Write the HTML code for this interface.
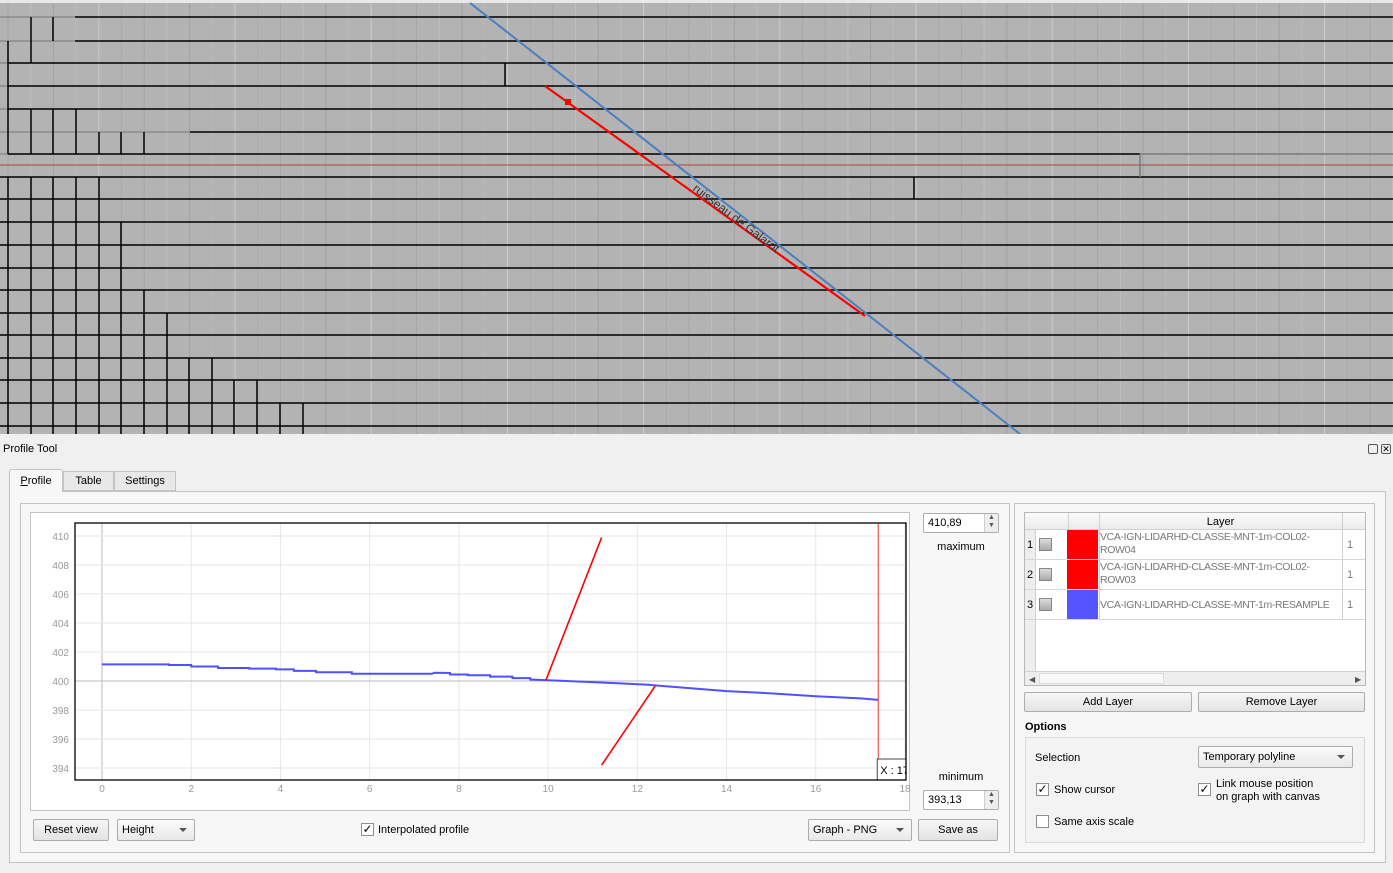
<!DOCTYPE html>
<html><head><meta charset="utf-8">
<style>
*{box-sizing:border-box}
body{margin:0;width:1393px;height:873px;overflow:hidden;background:#f0f0f0;font-family:"Liberation Sans",sans-serif;font-size:11px;color:#000;position:relative}
.abs{position:absolute}
.btn{position:absolute;border:1px solid #adadad;border-radius:2px;background:linear-gradient(#f6f6f6,#e3e3e3);text-align:center;font-size:11px;line-height:20px}
.combo{position:absolute;border:1px solid #adadad;border-radius:2px;background:linear-gradient(#fafafa,#e9e9e9);font-size:11px;line-height:20px;padding-left:4px}
.combo:after{content:"";position:absolute;right:7px;top:8px;border-left:4px solid transparent;border-right:4px solid transparent;border-top:4px solid #555}
.cb{position:absolute;width:13px;height:13px;border:1px solid #8f8f8f;background:#fff;font-size:12px;line-height:11px;text-align:center}
.spin{position:absolute;border:1px solid #adadad;border-radius:2px;background:#fff;font-size:11px;line-height:18px;padding-left:4px}
.spin span{position:absolute;right:0;top:0;width:14px;height:100%;border-left:1px solid #ccc;background:#eee;font-size:7px;line-height:8px;text-align:center;color:#555}
</style></head><body>
<svg id="map" class="abs" style="left:0;top:0" width="1393" height="434"></svg>

<div class="abs" style="left:3px;top:443px;font-size:11px">Profile Tool</div>
<div class="abs" style="left:1368px;top:444px;width:10px;height:10px;border:1px solid #555;border-radius:2px"></div>
<div class="abs" style="left:1381px;top:444px;width:10px;height:10px;border:1px solid #555;border-radius:2px;font-size:9px;line-height:8px;text-align:center">✕</div>

<div class="abs" style="left:9px;top:491px;width:1377px;height:372px;border:1px solid #c4c4c4;background:#f7f7f7"></div>
<div class="abs" style="left:9px;top:469px;width:54px;height:23px;border:1px solid #c4c4c4;border-bottom:none;background:#f7f7f7;border-radius:3px 3px 0 0;text-align:center;line-height:22px"><u>P</u>rofile</div>
<div class="abs" style="left:63px;top:471px;width:51px;height:20px;border:1px solid #c4c4c4;background:#e8e8e8;text-align:center;line-height:19px">Table</div>
<div class="abs" style="left:114px;top:471px;width:62px;height:20px;border:1px solid #c4c4c4;background:#e8e8e8;text-align:center;line-height:19px">Settings</div>

<div class="abs" style="left:20px;top:503px;width:990px;height:350px;border:1px solid #c4c4c4"></div>
<div class="abs" style="left:30px;top:512px;width:880px;height:299px;border:1px solid #c4c4c4;background:#fff"></div>
<svg id="chart" class="abs" style="left:0;top:0;pointer-events:none" width="1393" height="873"><defs><clipPath id="pc"><rect x="75" y="523" width="831" height="257"/></clipPath></defs></svg>

<div class="spin" style="left:923px;top:513px;width:76px;height:20px">410,89<span>▲<br>▼</span></div>
<div class="abs" style="left:923px;top:541px;width:76px;text-align:center">maximum</div>
<div class="abs" style="left:923px;top:771px;width:76px;text-align:center">minimum</div>
<div class="spin" style="left:923px;top:790px;width:76px;height:20px">393,13<span>▲<br>▼</span></div>

<div class="btn" style="left:33px;top:819px;width:76px;height:22px">Reset view</div>
<div class="combo" style="left:117px;top:819px;width:78px;height:22px">Height</div>
<div class="cb" style="left:361px;top:823px">✓</div>
<div class="abs" style="left:378px;top:824px">Interpolated profile</div>
<div class="combo" style="left:808px;top:819px;width:104px;height:22px">Graph - PNG</div>
<div class="btn" style="left:918px;top:819px;width:80px;height:22px">Save as</div>

<div class="abs" style="left:1014px;top:503px;width:361px;height:350px;border:1px solid #c4c4c4"></div>
<div class="abs" style="left:1024px;top:512px;width:342px;height:174px;border:1px solid #b8b8b8;background:#fff">
  <div class="abs" style="left:0;top:0;width:340px;height:17px;background:linear-gradient(#fafafa,#ececec);border-bottom:1px solid #d0d0d0"></div>
  <div class="abs" style="left:43px;top:0;width:1px;height:107px;background:#d0d0d0"></div>
  <div class="abs" style="left:74px;top:0;width:1px;height:107px;background:#d0d0d0"></div>
  <div class="abs" style="left:317px;top:0;width:1px;height:107px;background:#d0d0d0"></div>
  <div class="abs" style="left:74px;top:3px;width:243px;text-align:center">Layer</div>
  <div class="abs" style="left:0;top:17px;width:11px;height:145px;background:#eee;border-right:1px solid #d0d0d0"></div>
</div>
<div id="rows"></div>
<div class="abs" style="left:1025px;top:671px;width:340px;height:14px;background:#eee;border-top:1px solid #d0d0d0">
  <div class="abs" style="left:4px;top:3px;font-size:8px;color:#555">◀</div>
  <div class="abs" style="left:14px;top:1px;width:125px;height:11px;background:#f8f8f8;border:1px solid #ddd"></div>
  <div class="abs" style="left:330px;top:3px;font-size:8px;color:#555">▶</div>
</div>
<div class="btn" style="left:1024px;top:692px;width:168px;height:20px;line-height:18px">Add Layer</div>
<div class="btn" style="left:1198px;top:692px;width:167px;height:20px;line-height:18px">Remove Layer</div>
<div class="abs" style="left:1025px;top:721px;font-weight:bold">Options</div>
<div class="abs" style="left:1025px;top:737px;width:340px;height:106px;border:1px solid #d8d8d8;background:#f3f3f3"></div>
<div class="abs" style="left:1035px;top:752px">Selection</div>
<div class="combo" style="left:1198px;top:746px;width:155px;height:22px">Temporary polyline</div>
<div class="cb" style="left:1036px;top:783px">✓</div>
<div class="abs" style="left:1054px;top:784px">Show cursor</div>
<div class="cb" style="left:1198px;top:783px">✓</div>
<div class="abs" style="left:1216px;top:778px;line-height:13px">Link mouse position<br>on graph with canvas</div>
<div class="cb" style="left:1036px;top:815px"></div>
<div class="abs" style="left:1054px;top:816px">Same axis scale</div>

<script>
// ---- chart data ----
const xTicks=[0,2,4,6,8,10,12,14,16,18];
const yTicks=[394,396,398,400,402,404,406,408,410];
const profileX=[0,1.5,1.5,2,2,2.6,2.6,3.3,3.3,3.9,3.9,4.3,4.3,4.8,4.8,5.6,5.6,7.4,7.45,7.8,7.8,8.2,8.2,8.7,8.7,9.2,9.2,9.6,9.6,10,10.8,11.5,12.2,12.6,13.2,14,15,16,17,17.4];
const profileY=[401.15,401.15,401.1,401.1,401.0,401.0,400.9,400.9,400.85,400.85,400.8,400.8,400.7,400.7,400.6,400.6,400.5,400.5,400.57,400.55,400.45,400.45,400.4,400.4,400.3,400.3,400.2,400.2,400.1,400.05,399.95,399.85,399.75,399.65,399.5,399.3,399.15,398.95,398.8,398.7];
const red1X=[9.95,11.2], red1Y=[400.05,409.9];
const red2X=[12.4,11.2], red2Y=[399.65,394.2];
const cursorX=17.4;

const NS="http://www.w3.org/2000/svg";
function mk(parent,tag,attrs){const e=document.createElementNS(NS,tag);for(const k in attrs)e.setAttribute(k,attrs[k]);parent.appendChild(e);return e;}
const PL=75,PR=906,PT=523,PB=780;
const sx=v=>102+v*(803/18);
const sy=v=>681-(v-400)*14.5;
const ch=document.getElementById('chart');
mk(ch,'rect',{x:PL,y:PT,width:PR-PL,height:PB-PT,fill:'#fff'});
xTicks.forEach(t=>{
  const l=mk(ch,'line',{x1:sx(t),x2:sx(t),y1:PT,y2:PB,stroke:t===0?'#bbb':'#e6e6e6'});
  
  
  const tx=mk(ch,'text',{x:sx(t),y:792,'text-anchor':'middle','font-size':10,fill:'#999','font-family':'Liberation Sans'});
  tx.textContent=t;
  
  
});
yTicks.forEach(t=>{
  const l=mk(ch,'line',{x1:PL,x2:PR,y1:sy(t),y2:sy(t),stroke:t===400?'#bbb':'#e6e6e6'});
  
  
  const tx=mk(ch,'text',{x:69,y:sy(t)+4,'text-anchor':'end','font-size':10,fill:'#999','font-family':'Liberation Sans'});
  tx.textContent=t;
  
  
});
const prof=mk(ch,'polyline',{points:profileX.map((x,i)=>sx(x)+','+sy(profileY[i])).join(' '),fill:'none',stroke:'#5050ff','stroke-width':2});


const r1=mk(ch,'polyline',{points:red1X.map((x,i)=>sx(x)+','+sy(red1Y[i])).join(' '),fill:'none',stroke:'#f00','stroke-width':1.6});


const r2=mk(ch,'polyline',{points:red2X.map((x,i)=>sx(x)+','+sy(red2Y[i])).join(' '),fill:'none',stroke:'#f00','stroke-width':1.6});


const cur=mk(ch,'line',{x1:sx(cursorX),x2:sx(cursorX),y1:PT,y2:PB,stroke:'#f03030','stroke-width':1});


const box=mk(ch,'rect',{x:sx(cursorX)-1,y:759,width:PR-sx(cursorX)+1,height:21,fill:'#fff',stroke:'#444'});


const bt=mk(ch,'text',{x:sx(cursorX)+2,y:774,'font-size':11,fill:'#000','font-family':'Liberation Sans','clip-path':'url(#pc)'});
bt.textContent='X : 17';
mk(ch,'rect',{x:PL,y:PT,width:PR-PL,height:PB-PT,fill:'none',stroke:'#000','stroke-width':1.3});

// ---- layer rows ----
const rows=document.getElementById('rows');
const layers=[['VCA-IGN-LIDARHD-CLASSE-MNT-1m-COL02-<br>ROW04','#ff0000'],['VCA-IGN-LIDARHD-CLASSE-MNT-1m-COL02-<br>ROW03','#ff0000'],['VCA-IGN-LIDARHD-CLASSE-MNT-1m-RESAMPLE','#5555ff']];
layers.forEach((l,i)=>{
  const y=530+i*30;
  const r=document.createElement('div');
  r.className='abs';
  
  
  r.style.cssText=`left:1025px;top:${y}px;width:340px;height:30px;border-bottom:1px solid #d8d8d8`;
  r.innerHTML=`<div class="abs" style="left:2px;top:9px">${i+1}</div>
  <div class="abs" style="left:14px;top:8px;width:13px;height:13px;border:1px solid #888;background:linear-gradient(#ddd,#aaa)"></div>
  <div class="abs" style="left:42px;top:0;width:31px;height:29px;background:${l[1]}"></div>
  <div class="abs" style="left:75px;top:${i<2?1:9}px;color:#777;line-height:13px;font-size:10.5px;letter-spacing:-0.35px;white-space:nowrap">${l[0]}</div>
  <div class="abs" style="left:322px;top:9px;color:#777">1</div>`;
  rows.appendChild(r);
});

// ---- map ----
const map=document.getElementById('map');
mk(map,'rect',{x:0,y:0,width:1393,height:434,fill:'#b3b3b3'});
mk(map,'rect',{x:0,y:0,width:1393,height:3,fill:'#e8e8e8'});
const shades=['#a6a6a6','#bfbfbf','#a2a2a2','#bababa','#cccccc','#aaaaaa'];
for(let k=0;k<62;k++){const x=8+k*22.7;mk(map,'line',{x1:x,x2:x,y1:3,y2:434,stroke:shades[k%6],'stroke-width':1});}
const hY=[17,41,63,86,109,132,154,177,199,222,245,268,290,313,335,358,380,403,426];
const hStart=[75,75,8,8,8,190,8,8,8,8,120,190,8,230,280,420,280,280,300];
hY.forEach((y,i)=>{mk(map,'line',{x1:i<7?hStart[i]:0,x2:1393,y1:y,y2:y,stroke:'#000','stroke-width':1.5});mk(map,'line',{x1:0,x2:i<7?hStart[i]:0,y1:y,y2:y,stroke:'#777','stroke-width':1});});
mk(map,'line',{x1:0,x2:1393,y1:165,y2:165,stroke:'#b04040','stroke-width':1});
mk(map,'line',{x1:1140,x2:1140,y1:154,y2:177,stroke:'#777','stroke-width':1.5});
mk(map,'rect',{x:1140,y:153,width:253,height:2,fill:'#888'});
const vStair=[[8,177],[31,177],[53,177],[76,177],[99,177],[121,222],[144,290],[167,313],[189,358],[212,358],[234,380],[257,380],[280,403],[303,403]];
vStair.forEach(v=>mk(map,'line',{x1:v[0],x2:v[0],y1:v[1],y2:434,stroke:'#000','stroke-width':1.5}));
[[31,17,63],[53,17,41],[8,41,154],[31,109,154],[53,109,154],[76,109,154],[99,132,154],[121,132,154],[144,132,154],[505,63,86],[914,177,199]].forEach(v=>mk(map,'line',{x1:v[0],x2:v[0],y1:v[1],y2:v[2],stroke:'#000','stroke-width':1.5}));
mk(map,'line',{x1:470,y1:3,x2:1020,y2:434,stroke:'#4a7fc0','stroke-width':2});
mk(map,'line',{x1:545,y1:86,x2:865,y2:316,stroke:'#f00','stroke-width':2.2});
mk(map,'rect',{x:565,y:99,width:6,height:6,fill:'#f00'});
const lbl=mk(map,'text',{x:0,y:0,'font-size':12,fill:'#333','font-family':'Liberation Sans',transform:'translate(692,190) rotate(37)'});
lbl.textContent='ruisseau de Galarot';


</script>
</body></html>
